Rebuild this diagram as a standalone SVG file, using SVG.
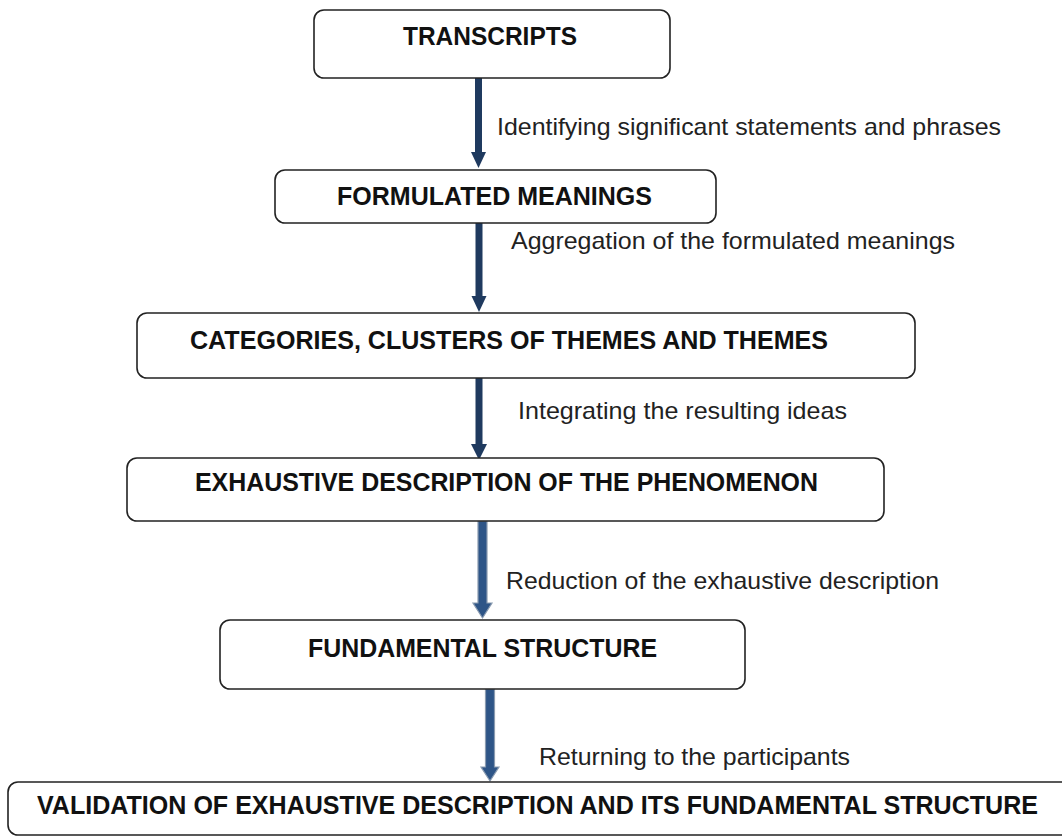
<svg xmlns="http://www.w3.org/2000/svg" width="1062" height="837" viewBox="0 0 1062 837">
<style>
.box{fill:#fff;stroke:#222;stroke-width:1.6}
.t{font-family:"Liberation Sans",Arial,sans-serif;font-weight:bold;font-size:25px;fill:#111}
.l{font-family:"Liberation Sans",Arial,sans-serif;font-size:24px;fill:#222}
.a1{fill:#1f3a5f}
.a2{fill:#2e5587;stroke:#8a9bb0;stroke-width:1.2}
</style>
<rect width="1062" height="837" fill="#fff"/>
<g id="connectors">
<polygon class="a1" points="475,76 482,76 482,152 486,152 478.5,168 471,152 475,152"/>
<polygon class="a1" points="475.5,223 482.5,223 482.5,296 486.5,296 479,312 471.5,296 475.5,296"/>
<polygon class="a1" points="475.5,369 482.5,369 482.5,444 487,444 479,460 471,444 475.5,444"/>
<polygon class="a2" points="478,521 487,521 487,603 492,603 482.5,618 473,603 478,603"/>
<polygon class="a2" points="485.5,689 494.5,689 494.5,767 499,767 490,781 481,767 485.5,767"/>
<text class="l" x="497" y="135" textLength="504" lengthAdjust="spacingAndGlyphs">Identifying significant statements and phrases</text>
<text class="l" x="511" y="249" textLength="444" lengthAdjust="spacingAndGlyphs">Aggregation of the formulated meanings</text>
<text class="l" x="518" y="419" textLength="329" lengthAdjust="spacingAndGlyphs">Integrating the resulting ideas</text>
<text class="l" x="506" y="589" textLength="433" lengthAdjust="spacingAndGlyphs">Reduction of the exhaustive description</text>
<text class="l" x="539" y="765" textLength="311" lengthAdjust="spacingAndGlyphs">Returning to the participants</text>
</g>
<g id="n1"><rect class="box" x="314" y="10" width="356" height="68" rx="10"/><text class="t" x="403" y="45" textLength="174" lengthAdjust="spacingAndGlyphs">TRANSCRIPTS</text></g>
<g id="n2"><rect class="box" x="275" y="170" width="441" height="53" rx="10"/><text class="t" x="337" y="205" textLength="315" lengthAdjust="spacingAndGlyphs">FORMULATED MEANINGS</text></g>
<g id="n3"><rect class="box" x="137" y="313" width="778" height="65" rx="10"/><text class="t" x="190" y="349" textLength="638" lengthAdjust="spacingAndGlyphs">CATEGORIES, CLUSTERS OF THEMES AND THEMES</text></g>
<g id="n4"><rect class="box" x="127" y="458" width="757" height="63" rx="10"/><text class="t" x="195" y="491" textLength="623" lengthAdjust="spacingAndGlyphs">EXHAUSTIVE DESCRIPTION OF THE PHENOMENON</text></g>
<g id="n5"><rect class="box" x="220" y="620" width="525" height="69" rx="10"/><text class="t" x="308" y="657" textLength="349" lengthAdjust="spacingAndGlyphs">FUNDAMENTAL STRUCTURE</text></g>
<g id="n6"><rect class="box" x="8" y="782" width="1070" height="53" rx="10"/><text class="t" x="37" y="814" textLength="1001" lengthAdjust="spacingAndGlyphs">VALIDATION OF EXHAUSTIVE DESCRIPTION AND ITS FUNDAMENTAL STRUCTURE</text></g>
</svg>
